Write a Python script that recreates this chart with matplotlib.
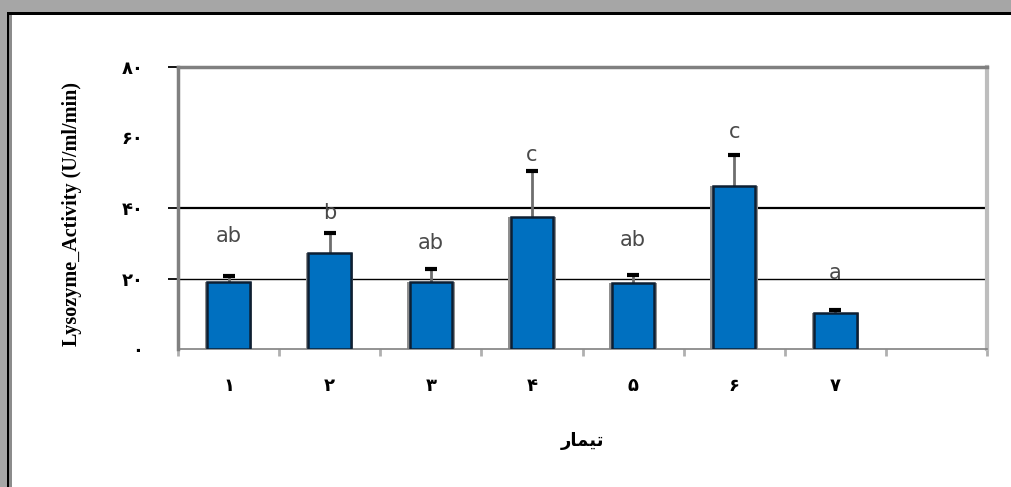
import matplotlib
matplotlib.use("Agg")
import matplotlib.pyplot as plt
from matplotlib.patches import Rectangle

# ---- data ----
categories = [1, 2, 3, 4, 5, 6, 7, 8]
tick_labels = ["۱", "۲", "۳", "۴", "۵", "۶", "۷", ""]
values = [19.1, 27.3, 19.1, 37.5, 18.8, 46.2, 10.1]
errors = [1.7, 5.5, 3.6, 13.1, 2.2, 8.8, 1.0]
letters = ["ab", "b", "ab", "c", "ab", "c", "a"]
letter_y = [32.0, 38.6, 30.2, 55.0, 31.0, 61.6, 21.5]
yticks = [0, 20, 40, 60, 80]
ytick_labels = ["۰", "۲۰", "۴۰", "۶۰", "۸۰"]
ylabel_text = "Lysozyme_Activity (U/ml/min)"
# "تیمار" written with Arabic presentation forms in visual order (matplotlib does no shaping)
xlabel_text = "\uFEAD\uFE8E\uFEE4\uFEF4\uFE97"

W, H = 1012, 487
fig = plt.figure(figsize=(W / 100, H / 100), dpi=100, facecolor="#a6a6a6")

def px_rect(x0, y0_top, x1, y1_top, color):
    # coordinates in pixels measured from the top-left corner
    fig.patches.append(Rectangle((x0 / W, 1 - y1_top / H), (x1 - x0) / W, (y1_top - y0_top) / H,
                                 transform=fig.transFigure, facecolor=color, edgecolor="none",
                                 zorder=-10))

px_rect(7, 12, 1030, 500, "#000000")
px_rect(9.5, 15, 1030, 500, "#8c8c8c")
px_rect(12, 15, 1030, 500, "#ffffff")

ax = fig.add_axes([178 / W, 1 - 349 / H, (987 - 178) / W, (349 - 67) / H])
ax.set_facecolor("none")

n = len(values)
x = categories[:n]
# gray shadow behind each bar, then the blue bar
ax.bar(x, values, width=0.47, color="#8f8f8f", edgecolor="none", zorder=2.5)
ax.bar(x, values, width=0.42, color="#0070c0", edgecolor="#0d1f33", linewidth=1.8, zorder=3)
_, caps, bars = ax.errorbar(x, values, yerr=[[0] * n, errors], fmt="none", ecolor="#6e6e6e",
                            elinewidth=2, capsize=4.5, capthick=3, zorder=2)
caps[0].set_visible(False)
caps[1].set_color("black")
caps[1].set_markeredgecolor("black")
caps[1].set_markerfacecolor("black")

for xi, lab, ly in zip(x, letters, letter_y):
    ax.text(xi, ly, lab, ha="center", va="center", fontsize=15, color="#4a4a4a",
            family="DejaVu Sans")

ax.axhline(40, color="black", linewidth=1.6, zorder=1)
ax.axhline(20, color="black", linewidth=1.0, zorder=1)

ax.set_xlim(0.5, 8.5)
ax.set_ylim(0, 80)

ax.set_yticks(yticks)
ax.set_yticklabels(ytick_labels, fontsize=13, family="DejaVu Sans", fontweight="bold")
ax.tick_params(axis="y", direction="out", length=7, width=1.3, color="black", pad=18)
ytk = ax.yaxis.get_major_ticks()
ytk[0].tick1line.set_visible(False)
ytk[3].tick1line.set_visible(False)

ax.set_xticks(categories)
ax.set_xticklabels(tick_labels, fontsize=13, family="DejaVu Sans", fontweight="bold")
ax.set_xticks([c + 0.5 for c in [0] + categories], minor=True)
ax.tick_params(axis="x", which="major", length=0, pad=20)
ax.tick_params(axis="x", which="minor", length=5, width=2, color="#b0b0b0", direction="out")

for s in ["left", "top"]:
    ax.spines[s].set_color("#808080")
    ax.spines[s].set_linewidth(2.5)
ax.spines["bottom"].set_color("#808080")
ax.spines["bottom"].set_linewidth(1.2)
ax.spines["right"].set_color("#bdbdbd")
ax.spines["right"].set_linewidth(3)

fig.text(72 / W, 1 - 214 / H, ylabel_text, rotation=90, ha="center", va="center",
         fontsize=14.5, family="Liberation Serif", fontweight="bold")
fig.text(583 / W, 1 - 441 / H, xlabel_text, ha="center", va="center", fontsize=13,
         family="DejaVu Sans", fontweight="bold")

fig.savefig("out.png", dpi=100, facecolor=fig.get_facecolor())
